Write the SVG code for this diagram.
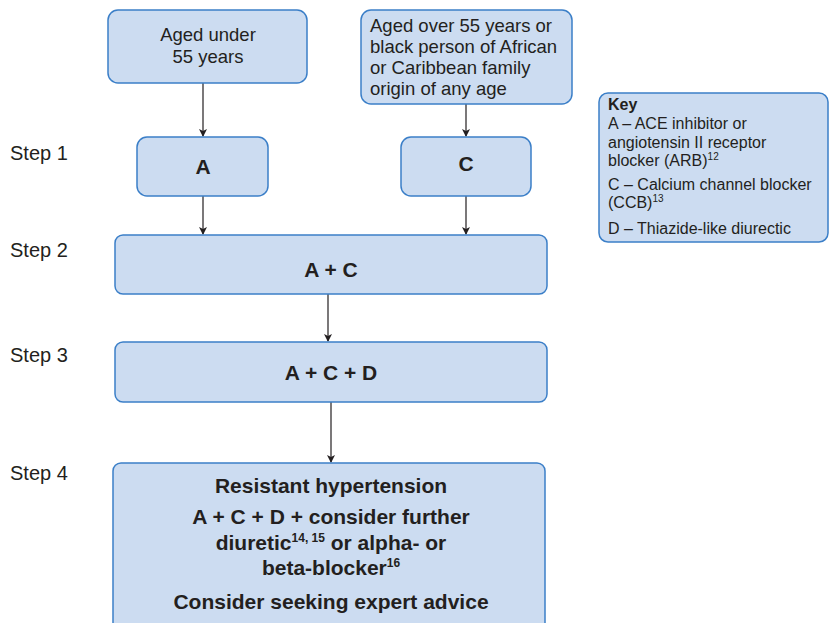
<svg xmlns="http://www.w3.org/2000/svg" width="829" height="623" viewBox="0 0 829 623">
<style>
.box{fill:#ccdcf1;stroke:#3b7fc8;stroke-width:1.5}
.t{font-family:"Liberation Sans",Arial,sans-serif;fill:#231f20}
.s{font-size:20px}
.n{font-size:18.5px}
.b{font-size:21px;font-weight:bold}
.k{font-size:16px}
.sup{font-size:10px}
.bsup{font-size:12px}
.c{fill:none;stroke:#231f20;stroke-width:1.2}
</style>
<defs>
<marker id="ah" markerWidth="10" markerHeight="10" refX="8" refY="5" orient="auto" markerUnits="userSpaceOnUse">
<path d="M1,1 L9,5 L1,9 L3,5 Z" fill="#231f20"/>
</marker>
</defs>
<rect width="829" height="623" fill="#fff"/>
<g id="steps" class="t s">
<text x="10" y="160">Step 1</text>
<text x="10" y="257">Step 2</text>
<text x="10" y="362">Step 3</text>
<text x="10" y="480">Step 4</text>
</g>
<g id="connectors">
<line class="c" x1="203" y1="83" x2="203" y2="136" marker-end="url(#ah)"/>
<line class="c" x1="466" y1="104" x2="466" y2="136" marker-end="url(#ah)"/>
<line class="c" x1="203" y1="196" x2="203" y2="234" marker-end="url(#ah)"/>
<line class="c" x1="466" y1="196" x2="466" y2="234" marker-end="url(#ah)"/>
<line class="c" x1="328" y1="294" x2="328" y2="341" marker-end="url(#ah)"/>
<line class="c" x1="331" y1="402" x2="331" y2="462" marker-end="url(#ah)"/>
</g>
<g id="under55">
<rect class="box" x="108" y="10" width="199" height="73" rx="10"/>
<text class="t n" x="208" y="41" text-anchor="middle">Aged under</text>
<text class="t n" x="208" y="63" text-anchor="middle">55 years</text>
</g>
<g id="over55">
<rect class="box" x="361" y="10" width="211" height="94" rx="10"/>
<text class="t n" x="370" y="32">Aged over 55 years or</text>
<text class="t n" x="370" y="53">black person of African</text>
<text class="t n" x="370" y="74">or Caribbean family</text>
<text class="t n" x="370" y="95">origin of any age</text>
</g>
<g id="stepA">
<rect class="box" x="137" y="137" width="131" height="59" rx="10"/>
<text class="t b" x="203" y="174" text-anchor="middle">A</text>
</g>
<g id="stepC">
<rect class="box" x="401" y="137" width="130" height="59" rx="10"/>
<text class="t b" x="466" y="171" text-anchor="middle">C</text>
</g>
<g id="step2">
<rect class="box" x="115" y="235" width="432" height="59" rx="8"/>
<text class="t b" x="331" y="277" text-anchor="middle">A + C</text>
</g>
<g id="step3">
<rect class="box" x="115" y="342" width="432" height="60" rx="8"/>
<text class="t b" x="331" y="380" text-anchor="middle">A + C + D</text>
</g>
<g id="step4">
<rect class="box" x="113" y="463" width="432" height="175" rx="8"/>
<text class="t b" x="331" y="493" text-anchor="middle">Resistant hypertension</text>
<text class="t b" x="331" y="524" text-anchor="middle">A + C + D + consider further</text>
<text class="t b" x="331" y="550" text-anchor="middle">diuretic<tspan class="bsup" dy="-8">14, 15</tspan><tspan dy="8"> or alpha- or</tspan></text>
<text class="t b" x="331" y="575" text-anchor="middle">beta-blocker<tspan class="bsup" dy="-8">16</tspan></text>
<text class="t b" x="331" y="609" text-anchor="middle">Consider seeking expert advice</text>
</g>
<g id="key">
<rect class="box" x="599" y="93" width="229" height="149" rx="9"/>
<text class="t k" x="608" y="110" font-weight="bold">Key</text>
<text class="t k" x="608" y="129">A – ACE inhibitor or</text>
<text class="t k" x="608" y="148">angiotensin II receptor</text>
<text class="t k" x="608" y="166">blocker (ARB)<tspan class="sup" dy="-6">12</tspan></text>
<text class="t k" x="608" y="190">C – Calcium channel blocker</text>
<text class="t k" x="608" y="208">(CCB)<tspan class="sup" dy="-6">13</tspan></text>
<text class="t k" x="608" y="234">D – Thiazide-like diurectic</text>
</g>
</svg>
